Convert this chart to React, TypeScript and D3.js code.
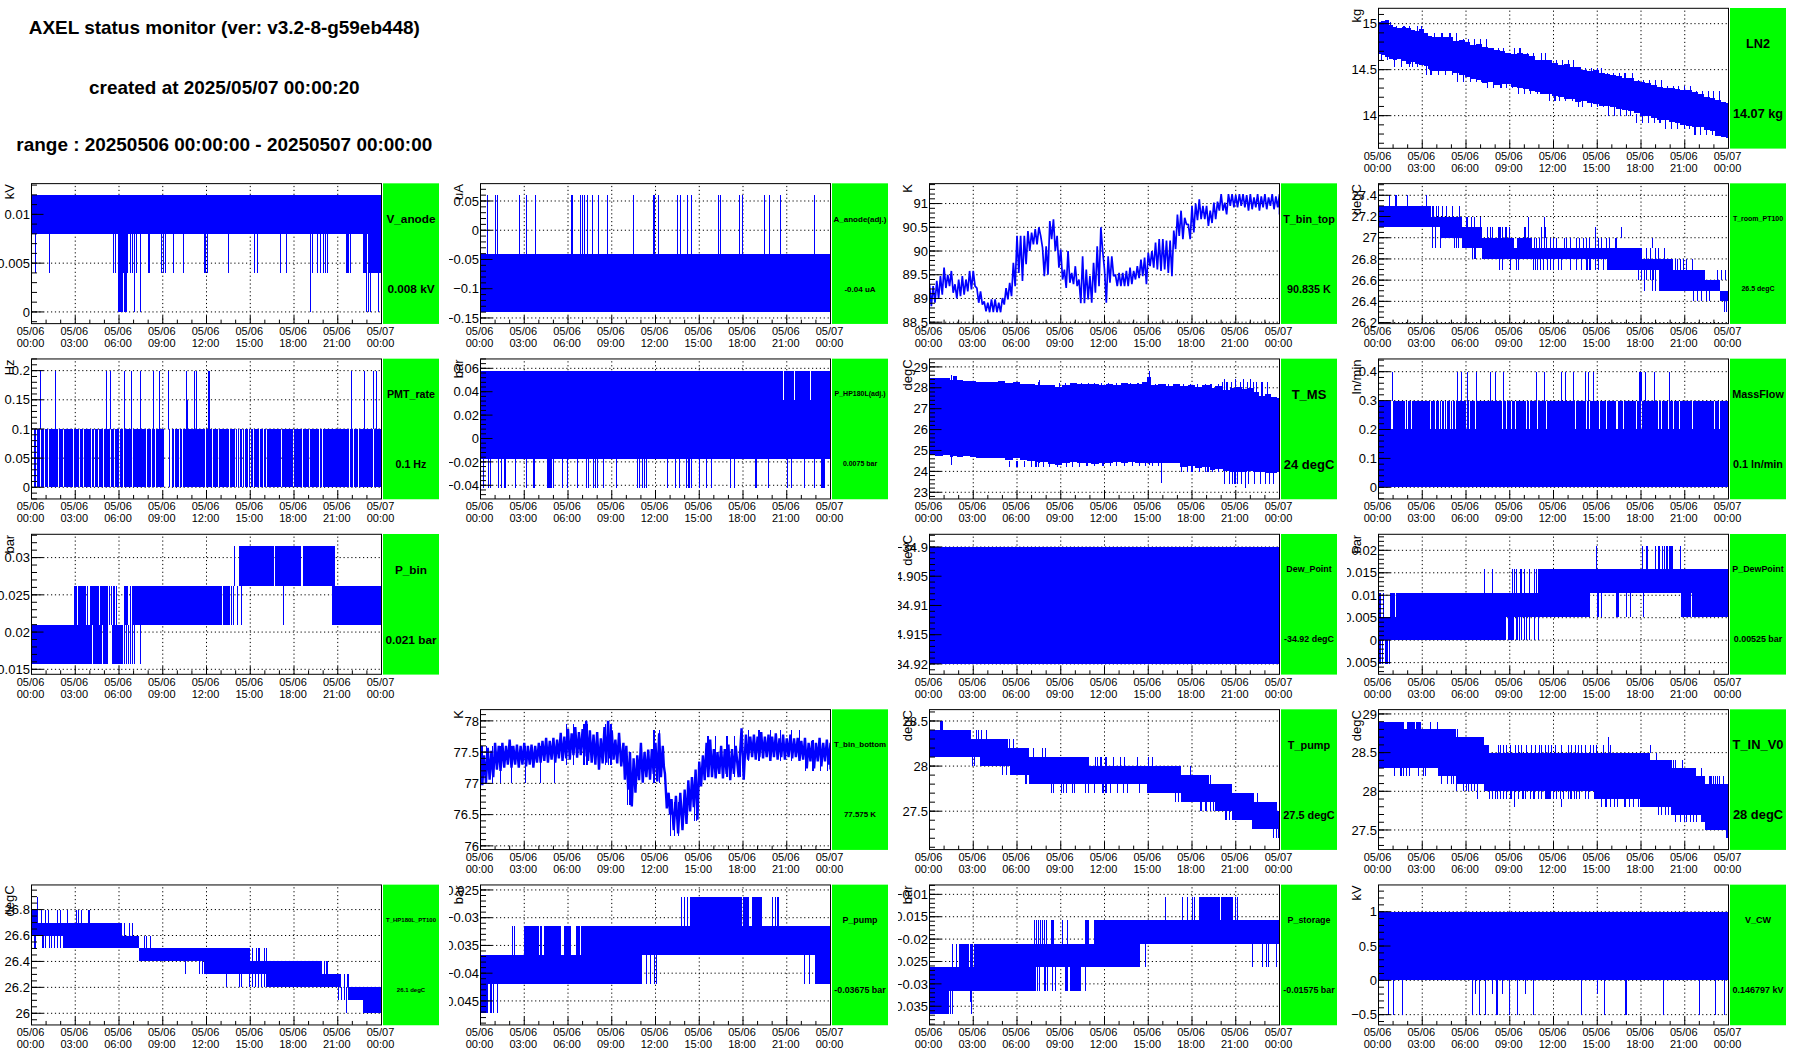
import * as d3 from "d3";

// [start hour, end hour, low, high, gap hours]
type Band = [number, number, number, number, number[]?];
// [low, high, hours]
type Spikes = [number, number, number[]];
// [hour, low, high]
type Row = [number, number, number];

const xTickHours = [0, 3, 6, 9, 12, 15, 18, 21, 24];
const xMinorHours = [1, 2, 4, 5, 7, 8, 10, 11, 13, 14, 16, 17, 19, 20, 22, 23];
const xDateLabels = ["05/06", "05/06", "05/06", "05/06", "05/06", "05/06", "05/06", "05/06", "05/07"];
const xTimeLabels = ["00:00", "03:00", "06:00", "09:00", "12:00", "15:00", "18:00", "21:00", "00:00"];

const titleLines = [
  "AXEL status monitor (ver: v3.2-8-g59eb448)",
  "created at 2025/05/07 00:00:20",
  "range : 20250506 00:00:00 - 20250507 00:00:00",
];

// LN2
const ln2Rows: Row[] = [
  [0, 14.67, 15.0], [0.15, 14.66, 15.03], [0.45, 14.64, 15.04], [0.7, 14.62, 14.99], [1, 14.6, 14.96], [1.3, 14.62, 14.95],
  [1.6, 14.59, 14.96], [1.9, 14.56, 14.95], [2.2, 14.58, 14.93], [2.5, 14.56, 14.92], [2.8, 14.55, 14.94], [3.1, 14.54, 14.9],
  [3.4, 14.51, 14.87], [3.7, 14.49, 14.85], [4, 14.49, 14.86], [4.4, 14.49, 14.85], [4.8, 14.48, 14.86], [5.1, 14.46, 14.81],
  [5.5, 14.44, 14.82], [5.9, 14.42, 14.8], [6.3, 14.4, 14.77], [6.7, 14.39, 14.78], [7.1, 14.36, 14.75], [7.5, 14.37, 14.73],
  [7.9, 14.33, 14.71], [8.3, 14.34, 14.7], [8.7, 14.34, 14.68], [9.1, 14.31, 14.67], [9.5, 14.3, 14.68], [9.9, 14.29, 14.67],
  [10.3, 14.27, 14.65], [10.7, 14.26, 14.61], [11.1, 14.24, 14.6], [11.5, 14.24, 14.6], [11.9, 14.21, 14.57], [12.3, 14.2, 14.55],
  [12.7, 14.18, 14.56], [13.1, 14.18, 14.53], [13.5, 14.15, 14.53], [13.9, 14.16, 14.5], [14.3, 14.14, 14.49], [14.7, 14.13, 14.5],
  [15.1, 14.11, 14.46], [15.5, 14.1, 14.45], [15.9, 14.09, 14.44], [16.3, 14.07, 14.43], [16.7, 14.06, 14.41], [17.1, 14.05, 14.41],
  [17.5, 14.03, 14.38], [17.9, 14.0, 14.37], [18.3, 14.0, 14.35], [18.7, 13.97, 14.33], [19.1, 13.95, 14.31], [19.5, 13.95, 14.3],
  [19.9, 13.93, 14.3], [20.3, 13.92, 14.29], [20.7, 13.9, 14.28], [21.1, 13.89, 14.28], [21.5, 13.88, 14.26], [21.9, 13.88, 14.24],
  [22.3, 13.84, 14.2], [22.7, 13.83, 14.19], [23.1, 13.78, 14.17], [23.5, 13.77, 14.15], [23.8, 13.76, 14.14], [24, 13.76, 14.14],
];
const ln2Spikes: Spikes[] = [
  [14.95, 15.02, [0.1, 0.3, 0.65, 0.85]],
  [14.9, 14.98, [1.25, 1.75, 2.15, 2.65, 2.95]],
  [14.8, 14.9, [3.3, 3.85, 4.35, 4.9, 5.35]],
  [14.7, 14.83, [5.8, 6.2, 6.6, 7, 7.4]],
  [14.62, 14.74, [7.8, 8.2, 8.6, 9.3, 9.7]],
  [14.55, 14.68, [10.2, 10.6, 11.2, 11.45]],
  [14.47, 14.6, [11.8, 12.2, 12.6, 13, 13.4]],
  [14.42, 14.52, [13.8, 14.2, 14.6, 15, 15.3]],
  [14.34, 14.46, [15.7, 16.1, 16.5, 16.9, 17.4]],
  [14.27, 14.39, [17.8, 18.2, 18.6, 19, 19.4]],
  [14.23, 14.32, [19.8, 20.2, 20.6, 21, 21.4]],
  [14.13, 14.27, [21.8, 22.2, 22.6, 23, 23.4]],
  [14.6, 14.68, [0.2, 0.6]],
  [14.53, 14.62, [1.1, 1.6, 2.1, 2.35, 2.7]],
  [14.44, 14.54, [3.3, 3.6, 4.1, 4.6, 5.05]],
  [14.37, 14.46, [5.4, 5.85, 6.3, 6.7, 7.05]],
  [14.3, 14.38, [7.45, 7.9, 8.4, 8.8, 9.2]],
  [14.23, 14.32, [9.6, 10, 10.45, 10.9, 11.3]],
  [14.16, 14.24, [11.7, 12.1, 12.4, 12.8, 13.3]],
  [14.09, 14.17, [13.7, 14, 14.6, 15, 15.4]],
  [14.0, 14.1, [15.8, 16.2, 16.6, 17, 17.3]],
  [13.92, 14.02, [17.7, 18.1, 18.5, 18.9, 19.3]],
  [13.86, 13.95, [19.7, 20.1, 20.5, 21, 21.3]],
  [13.79, 13.88, [21.7, 22.1, 22.5, 22.9]],
];

// V_anode
const vAnodeBands: Band[] = [
  [0, 24, 0.008, 0.012],
  [5.94, 6.63, 0.004, 0.008],
  [5.94, 6.29, 0, 0.004],
  [6.33, 6.54, 0, 0.004],
  [22.72, 23, 0.004, 0.008],
  [23.04, 23.9, 0.004, 0.008],
];
const vAnodeSpikes: Spikes[] = [
  [0.004, 0.008, [0.27, 1.21, 5.65, 5.78, 6.79, 6.9, 7.09, 7.22, 8, 8.07, 8.91, 9.05, 9.21, 9.76, 10.4, 11.86, 11.95, 12.05, 13.51, 15.27, 15.47, 17.05, 17.46, 19.25, 19.63, 19.82, 20, 20.14, 20.27, 21.6, 21.7, 21.9, 23.95]],
  [0, 0.008, [7.04, 7.45, 19.13, 22.97, 23.13, 23.25, 23.77]],
];

// A_anode(adj.)
const aAnodeBands: Band[] = [[0, 24, -0.14, -0.04]];
const aAnodeSpikes: Spikes[] = [
  [-0.04, 0.06, [0.48, 1.05, 1.17, 2.7, 3.15, 3.77, 6.24, 6.33, 6.88, 7.02, 7.15, 7.34, 7.68, 8.09, 8.73, 10.49, 11.88, 11.95, 12.2, 13.53, 13.71, 14.22, 14.47, 16.32, 16.46, 17.78, 17.98, 19.47, 19.81, 20.59, 22.93]],
];

// T_bin_top
const tBinTopRows: Row[] = [
  [0, 88.84, 89.3], [0.25, 88.91, 89.26], [0.5, 89.0, 89.37], [0.75, 89.08, 89.47], [1, 89.22, 89.65], [1.25, 89.26, 89.5],
  [1.5, 89.12, 89.58], [1.75, 89.0, 89.3], [2, 89.05, 89.4], [2.25, 89.08, 89.47], [2.5, 89.15, 89.4], [2.75, 89.19, 89.58],
  [3, 89.26, 89.58], [3.25, 88.91, 89.22], [3.5, 88.87, 89.15], [3.75, 88.73, 88.94], [4, 88.71, 88.91], [4.25, 88.71, 88.98],
  [4.5, 88.71, 88.98], [4.75, 88.71, 88.91], [5, 88.87, 89.01], [5.25, 88.98, 89.22], [5.5, 89.05, 89.33], [5.75, 89.26, 89.75],
  [6, 89.54, 90.32], [6.25, 89.37, 90.32], [6.5, 89.72, 90.32], [6.75, 90.0, 90.42], [7, 90.14, 90.39], [7.25, 90.14, 90.46],
  [7.5, 90.32, 90.5], [7.75, 89.47, 90.07], [8, 89.5, 90.1], [8.25, 90.25, 90.63], [8.5, 90.0, 90.67], [8.75, 89.65, 90.32],
  [9, 89.4, 90.03], [9.25, 89.22, 89.61], [9.5, 89.33, 90.0], [9.75, 89.3, 89.54], [10, 89.26, 89.68], [10.25, 88.9, 89.4],
  [10.5, 88.9, 89.89], [10.75, 88.98, 89.61], [11, 88.91, 89.47], [11.25, 89.12, 89.75], [11.5, 89.26, 90.1], [11.75, 90.0, 90.5],
  [12, 88.91, 89.61], [12.25, 89.33, 89.89], [12.5, 89.47, 89.89], [12.75, 89.26, 89.5], [13, 89.26, 89.54], [13.25, 89.26, 89.54],
  [13.5, 89.26, 89.58], [13.75, 89.3, 89.65], [14, 89.4, 89.58], [14.25, 89.43, 89.68], [14.5, 89.47, 89.82], [14.75, 89.3, 89.86],
  [15, 89.68, 89.96], [15.25, 89.65, 90.0], [15.5, 89.61, 90.18], [15.75, 89.58, 90.25], [16, 89.61, 90.25], [16.25, 89.54, 90.22],
  [16.5, 89.47, 90.22], [16.75, 90.04, 90.43], [17, 90.32, 90.77], [17.25, 90.25, 90.85], [17.5, 90.56, 90.7], [17.75, 90.25, 90.56],
  [18, 90.39, 90.95], [18.25, 90.65, 91.0], [18.5, 90.67, 91.09], [18.75, 90.67, 90.95], [19, 90.53, 90.95], [19.25, 90.59, 90.85],
  [19.5, 90.67, 91.02], [19.75, 90.85, 91.04], [20, 90.85, 91.2], [20.25, 90.77, 91.02], [20.5, 90.95, 91.2], [20.75, 90.92, 91.2],
  [21, 90.92, 91.18], [21.25, 90.95, 91.2], [21.5, 90.92, 91.2], [21.75, 90.85, 91.18], [22, 90.88, 91.2], [22.25, 90.92, 91.13],
  [22.5, 90.85, 91.2], [22.75, 90.92, 91.15], [23, 90.88, 91.2], [23.25, 90.95, 91.13], [23.5, 90.88, 91.2], [23.75, 90.92, 91.15], [24, 90.77, 91.2],
];

// T_room_PT100
const tRoomBands: Band[] = [
  [0, 3.6, 27.1, 27.3],
  [3.6, 4.2, 27.1, 27.2],
  [4.2, 5.75, 27.0, 27.2],
  [5.75, 7.1, 26.9, 27.1],
  [7.1, 9.3, 26.8, 27.0],
  [9.5, 10.5, 26.8, 27.0],
  [9.3, 9.5, 26.8, 26.9],
  [10.5, 15.7, 26.8, 26.9],
  [15.7, 18.1, 26.7, 26.9],
  [18.1, 19.2, 26.7, 26.8],
  [19.2, 20.2, 26.5, 26.8],
  [20.2, 22.4, 26.5, 26.7],
  [22.4, 23.4, 26.5, 26.6],
  [23.4, 24, 26.4, 26.5],
];
const tRoomSpikes: Spikes[] = [
  [27.3, 27.4, [0.75, 1.14, 1.21, 2.01, 3.27]],
  [27.2, 27.3, [3.7, 3.77, 4, 4.11, 4.41, 4.69, 5.1, 5.55]],
  [27.1, 27.2, [6.06, 6.1, 6.4, 6.58, 6.97, 10.29, 11.38]],
  [27.0, 27.1, [7.5, 7.66, 7.84, 8.23, 8.3, 8.39, 8.53, 8.69, 8.8, 8.98, 9.99, 10.06, 10.29, 11.15, 11.38, 11.47, 14.9, 16.64]],
  [26.9, 27.0, [10.67, 10.86, 11.02, 11.2, 11.36, 11.54, 11.77, 12, 12.23, 12.73, 12.91, 13.14, 13.6, 13.78, 14.06, 14.29, 14.47, 14.86, 15.09, 15.31, 15.66, 15.84, 16.23, 16.34, 18.79]],
  [26.8, 26.9, [18.35, 18.63, 18.97, 19.2, 19.6, 6.47, 6.56, 6.65]],
  [26.9, 27.1, [3.73, 3.9, 4.23, 5.2, 5.37, 5.49]],
  [26.7, 26.8, [8.3, 8.5, 9.03, 9.44, 9.6, 10.63, 10.74, 10.9, 11.09, 11.31, 11.59, 11.77, 12, 12.34, 12.57, 13.14, 13.6, 13.9, 14.3, 14.5, 14.9, 15.1, 15.4]],
  [26.6, 26.7, [17.8, 18.06, 18.4, 18.63, 18.86]],
  [26.5, 26.7, [18.24, 18.79, 18.97]],
  [26.7, 26.8, [20.34, 20.5, 20.69, 20.91, 21.14, 21.53]],
  [26.4, 26.5, [21.6, 21.87, 22.16, 22.47, 22.67]],
  [26.6, 26.7, [23.27, 23.54, 23.82]],
  [26.3, 26.4, [23.73, 23.85]],
];

// PMT_rate
const pmtGaps = [0.07, 0.14, 0.34, 0.62, 0.87, 1.19, 1.85, 2.17, 2.86, 3.31, 3.54, 4.11, 4.3, 4.59, 4.96, 5.42, 5.71, 6.06, 6.33, 6.9, 7.89, 8.23, 8.53, 9.14, 9.2, 9.26, 9.32, 9.38, 9.55, 9.6, 9.78, 10.17, 10.35, 11.95, 12.41, 12.8, 13.6, 13.97, 14.1, 14.29, 14.47, 14.63, 14.86, 15.02, 15.25, 15.66, 15.89, 16.11, 17.14, 17.94, 18.57, 19.09, 19.73, 19.95, 21.83, 22.06, 22.43, 23.43];
const pmtBands: Band[] = [[0, 24, 0, 0.1, pmtGaps]];
const pmtSpikes: Spikes[] = [
  [0.1, 0.2, [0.59, 1.62, 5.12, 5.39, 6.35, 6.83, 7.45, 8.37, 8.75, 9.37, 10.63, 11.15, 11.29, 12.11, 12.18, 21.97, 22.81, 23.43, 23.63]],
  [0.1, 0.15, [10.7]],
];

// P_HP180L(adj.)
const pHpBands: Band[] = [
  [0, 24, -0.0175, 0.0325],
  [0, 24, 0.0325, 0.0575, [20.78, 21.53, 22.63]],
  [0.14, 0.27, -0.0425, -0.0175],
  [4.59, 4.89, -0.0425, -0.0175],
  [23.36, 23.63, -0.0425, -0.0175],
];
const pHpSpikes: Spikes[] = [
  [-0.0425, -0.0175, [0.55, 0.66, 1.23, 1.46, 1.65, 1.74, 2.4, 3.15, 3.63, 3.73, 4.98, 5.65, 5.97, 6.65, 7.25, 7.38, 7.75, 7.91, 8.02, 8.43, 9.33, 10.77, 10.88, 11.1, 11.22, 11.38, 12.82, 13.37, 13.65, 14.13, 14.24, 14.33, 14.49, 15.02, 15.5, 15.84, 17.14, 17.42, 18.88, 18.95, 19.75, 21.05, 21.33, 22.22, 22.9]],
];

// T_MS
const tMsRows: Row[] = [
  [0, 24.78, 28.45], [0.4, 24.72, 28.47], [0.9, 24.78, 28.48], [1.4, 24.7, 28.37], [1.6, 24.72, 28.55], [1.9, 24.68, 28.38],
  [2.3, 24.74, 28.33], [2.8, 24.68, 28.34], [3.2, 24.62, 28.27], [3.7, 24.66, 28.3], [4.2, 24.62, 28.29], [4.7, 24.66, 28.32],
  [5.2, 24.55, 28.22], [5.7, 24.62, 28.27], [6.2, 24.56, 28.2], [6.7, 24.48, 28.17], [7.2, 24.45, 28.12], [7.5, 24.4, 28.38],
  [7.6, 24.44, 28.12], [8.1, 24.36, 28.14], [8.6, 24.3, 28.06], [9.1, 24.4, 28.12], [9.6, 24.46, 28.22], [10.1, 24.4, 28.16],
  [10.6, 24.38, 28.2], [11.1, 24.36, 28.17], [11.6, 24.42, 28.14], [12.1, 24.38, 28.18], [12.6, 24.46, 28.14], [13.1, 24.42, 28.22],
  [13.6, 24.46, 28.2], [14.1, 24.38, 28.16], [14.6, 24.42, 28.3], [14.9, 24.4, 28.5], [15.2, 24.38, 28.12], [15.7, 24.38, 28.16],
  [16.2, 24.4, 28.1], [16.7, 24.4, 28.16], [17.2, 24.22, 28.08], [17.7, 24.24, 28.12], [18.2, 24.18, 28.06], [18.7, 24.2, 28.14],
  [19.2, 24.05, 28.0], [19.6, 24.1, 28.08], [20.1, 24.02, 27.9], [20.6, 23.95, 27.98], [21, 23.98, 28.05], [21.4, 23.98, 27.92],
  [21.8, 24.0, 27.98], [22.2, 23.95, 27.8], [22.6, 23.95, 27.6], [23, 23.9, 27.68], [23.4, 23.92, 27.55], [23.8, 23.95, 27.5], [24, 23.9, 27.43],
];
const tMsSpikes: Spikes[] = [
  [24.3, 28.6, [1.5]],
  [24.3, 28.82, [15.08]],
  [23.45, 24.4, [15.9]],
  [24.2, 28.3, [7.45]],
  [23.22, 24.0, [21.65]],
  [23.4, 24, [20.2, 20.6, 20.8, 20.95, 21.1, 21.4, 21.9, 22.3, 22.7, 23.05, 23.3, 23.6]],
  [27.5, 28.3, [20.1, 20.4, 20.7, 21.3, 21.8, 22.2, 22.4, 22.8, 23.2]],
  [27.5, 28.4, [20.25, 21, 21.55, 22]],
  [28, 28.25, [8.9, 9.3, 9.9, 10.4, 10.9, 11.3, 11.8, 12.3, 12.8, 13.3, 13.8, 14.3]],
  [28, 28.18, [15.5, 16, 16.4, 16.9, 17.4, 17.9, 18.4, 18.9, 19.3, 19.8]],
  [24.2, 24.5, [5.5, 6, 6.5, 7, 7.3, 7.8, 8.2, 8.8, 9.4, 9.8, 10.3]],
  [24.25, 24.45, [10.8, 11.3, 11.9, 12.4, 12.8, 13.4, 13.9, 14.4, 14.8, 15.3, 15.7]],
  [23.95, 24.25, [17.3, 17.7, 18, 18.5, 18.9, 19.1, 19.4, 19.8]],
];

// MassFlow
const massFlowBands: Band[] = [
  [0, 24, 0, 0.2],
  [0, 24, 0.2, 0.3, [0.87, 0.98, 1.83, 2.01, 2.29, 3.59, 3.89, 4.18, 4.34, 4.5, 4.69, 4.91, 5.07, 5.26, 6.06, 6.23, 6.63, 8.5, 8.75, 9.14, 9.41, 10.13, 10.35, 10.9, 11.54, 13.49, 14.29, 14.47, 15.13, 15.61, 16.3, 16.39, 16.8, 17.67, 18.06, 19.2, 19.43, 19.89, 20.23, 20.62, 21.55, 23.04, 23.38]],
];
const massFlowSpikes: Spikes[] = [
  [0.3, 0.4, [0.96, 5.42, 5.67, 6.1, 6.74, 7.7, 8, 8.57, 10.86, 11.38, 12.57, 12.82, 13.37, 14.22, 14.4, 14.74, 17.9, 18, 18.29, 18.93, 19.95]],
];

// P_bin
const pBinBands: Band[] = [
  [0, 4.16, 0.01575, 0.021],
  [4.23, 4.8, 0.01575, 0.021],
  [4.91, 5.26, 0.01575, 0.021],
  [5.51, 6.29, 0.01575, 0.021],
  [3.2, 3.73, 0.021, 0.02625],
  [4.11, 4.53, 0.021, 0.02625],
  [4.69, 5.26, 0.021, 0.02625],
  [6.35, 6.63, 0.021, 0.02625],
  [6.97, 13.03, 0.021, 0.02625],
  [13.1, 13.6, 0.021, 0.02625],
  [14.33, 16.62, 0.02625, 0.0315],
  [16.69, 18.51, 0.02625, 0.0315],
  [18.6, 20.78, 0.02625, 0.0315],
  [20.75, 24, 0.021, 0.02625],
];
const pBinSpikes: Spikes[] = [
  [0.01575, 0.021, [6.4, 6.51, 6.63, 6.79, 6.93, 7.04, 7.47]],
  [0.021, 0.02625, [2.95, 3.05, 3.85, 4.05, 4.6, 5.37, 5.49, 5.6, 5.71, 5.83, 6.79, 6.93, 13.71, 13.83, 14.1, 14.4, 17.26, 20.62, 20.69]],
  [0.02625, 0.0315, [13.9, 14.24]],
];

// Dew_Point
const dewPointBands: Band[] = [[0, 24, -34.92, -34.9]];

// P_DewPoint
const pDewBands: Band[] = [
  [0, 8.75, 0, 0.00525],
  [8.85, 9.2, 0, 0.00525],
  [0.8, 1.14, 0.00525, 0.0105],
  [0.3, 0.39, 0.00525, 0.0105],
  [1.21, 14.4, 0.00525, 0.0105],
  [16.27, 16.5, 0.00525, 0.0105],
  [20.75, 21.42, 0.00525, 0.0105],
  [21.5, 24, 0.00525, 0.0105],
  [10.97, 11.66, 0.0105, 0.01575],
  [11.66, 24, 0.0105, 0.01575],
  [18.93, 19.31, 0.01575, 0.021, [19.05, 19.15]],
  [19.73, 20.18, 0.01575, 0.021, [19.9]],
  [0.5, 0.6, -0.00525, 0],
];
const pDewSpikes: Spikes[] = [
  [0, 0.00525, [9.26, 9.44, 9.55, 9.67, 9.83, 10.01, 10.13, 10.35, 10.67, 10.97]],
  [0.00525, 0.0105, [0.07, 0.16, 14.47, 15.03, 15.1, 15.31, 16.99, 17.29, 18.17]],
  [0.0105, 0.01575, [7.27, 7.82, 9.19, 9.3, 9.48, 9.71, 9.83, 9.99, 10.35, 10.67, 10.86]],
  [0.01575, 0.021, [14.97, 18.08, 18.12, 18.35, 18.45, 19.5, 19.59, 20.71]],
  [-0.00525, 0, [0.1, 0.3, 0.46, 0.62, 0.75]],
];

// T_bin_bottom
const tBinBottomRows: Row[] = [
  [0, 76.97, 77.49], [0.25, 77.0, 77.45], [0.5, 77.06, 77.57], [0.75, 77.1, 77.52], [1, 77.22, 77.65], [1.25, 77.2, 77.6], [1.5, 77.25, 77.65],
  [1.75, 77.3, 77.6], [2, 77.25, 77.7], [2.25, 77.3, 77.6], [2.5, 77.25, 77.62], [2.75, 77.3, 77.6], [3, 77.27, 77.65], [3.25, 77.3, 77.6], [3.5, 77.25, 77.62],
  [3.75, 77.33, 77.6], [4, 77.33, 77.65], [4.25, 77.36, 77.68], [4.5, 77.33, 77.73], [4.75, 77.38, 77.68], [5, 77.33, 77.73], [5.25, 77.4, 77.7], [5.5, 77.36, 77.81],
  [5.75, 77.4, 77.75], [6, 77.38, 77.87], [6.25, 77.45, 77.8], [6.5, 77.41, 77.9], [6.75, 77.45, 77.82], [7, 77.43, 77.87], [7.25, 77.36, 78.0],
  [7.5, 77.33, 77.85], [7.75, 77.3, 77.78], [8, 77.22, 77.82], [8.25, 77.32, 77.72], [8.5, 77.33, 77.9], [8.75, 77.4, 78.0], [9, 77.38, 77.85], [9.25, 77.32, 77.7], [9.5, 77.27, 77.81],
  [9.8, 77.06, 77.65], [10, 76.9, 77.6], [10.25, 76.63, 77.5], [10.5, 76.85, 77.4], [10.75, 77.05, 77.45], [11, 77.01, 77.65], [11.25, 77.1, 77.5], [11.5, 77.06, 77.54],
  [11.75, 77.15, 77.55], [12, 77.03, 77.65], [12.25, 77.1, 77.8], [12.5, 77.27, 77.6], [12.65, 76.6, 77.15], [12.9, 76.5, 76.85], [13.1, 76.25, 76.75],
  [13.4, 76.2, 76.8], [13.7, 76.25, 76.85], [14, 76.35, 76.9], [14.25, 76.55, 77.05], [14.5, 76.62, 77.1], [14.75, 76.42, 77.22],
  [15, 76.95, 77.35], [15.25, 77.05, 77.45], [15.5, 77.1, 77.65], [15.75, 77.1, 77.7], [16, 77.08, 77.55], [16.25, 77.15, 77.5], [16.5, 77.08, 77.6], [16.75, 77.15, 77.55],
  [17, 77.05, 77.62], [17.25, 77.15, 77.55], [17.5, 77.1, 77.6], [17.9, 77.06, 77.88], [18.2, 77.38, 77.78], [18.5, 77.42, 77.75], [18.75, 77.38, 77.78], [19, 77.42, 77.75], [19.25, 77.4, 77.82],
  [19.5, 77.42, 77.75], [19.75, 77.36, 77.78], [20, 77.42, 77.75], [20.25, 77.38, 77.8], [20.5, 77.42, 77.72], [20.75, 77.38, 77.78], [21, 77.42, 77.72], [21.25, 77.4, 77.78], [21.5, 77.42, 77.72], [21.75, 77.36, 77.73], [22, 77.38, 77.68], [22.25, 77.24, 77.73],
  [22.5, 77.35, 77.65], [22.75, 77.24, 77.68], [23, 77.35, 77.65], [23.25, 77.27, 77.73], [23.5, 77.35, 77.65], [23.75, 77.3, 77.7], [24, 77.22, 77.65],
];
const tBinBottomSpikes: Spikes[] = [
  [77.0, 77.6, [0.1, 0.4, 0.85, 1.4, 2.1, 3.1, 4.1, 5.1]],
  [77.3, 77.95, [5.9, 6.4, 7.1, 7.3, 8.6, 8.8, 8.95]],
  [76.65, 77.4, [10.1, 10.2, 10.3]],
  [77.0, 77.85, [11.9, 12.3]],
  [76.15, 76.7, [13, 13.3, 13.6]],
  [76.4, 77.0, [14.7, 14.8]],
  [77.1, 77.75, [15.6, 16.1, 16.9, 17.4, 17.85]],
  [77.35, 77.85, [18.4, 19.1, 19.9, 20.6, 21.3, 21.9]],
  [77.2, 77.7, [22.3, 22.8, 23.3, 23.8]],
];

// T_pump
const tPumpBands: Band[] = [
  [0, 2.86, 28.1, 28.4],
  [0.73, 0.91, 28.4, 28.5],
  [2.86, 3.5, 28.1, 28.3],
  [3.5, 5.35, 28.0, 28.3],
  [5.35, 5.5, 28.0, 28.2],
  [5.5, 6.85, 27.9, 28.2],
  [6.85, 10.6, 27.8, 28.1],
  [10.6, 14.9, 27.8, 28.0],
  [10.6, 10.95, 28.0, 28.1],
  [14.9, 17.26, 27.7, 28.0],
  [17.26, 19.15, 27.6, 27.9],
  [19.15, 19.6, 27.6, 27.8],
  [19.6, 20.73, 27.5, 27.8],
  [20.73, 22.13, 27.4, 27.7],
  [22.13, 22.26, 27.3, 27.7],
  [22.26, 23.75, 27.3, 27.6],
  [23.75, 24, 27.3, 27.5],
];
const tPumpSpikes: Spikes[] = [
  [28.3, 28.4, [3.2, 3.36, 3.59, 3.93]],
  [28.2, 28.3, [5.37, 5.49, 5.76]],
  [28.1, 28.2, [7.13, 7.77, 7.95]],
  [28.0, 28.1, [9.07, 9.19, 9.49, 11.38, 11.52, 11.7, 11.8, 12.1, 12.6, 13.1, 13.35, 14.25, 15, 15.3]],
  [27.9, 28.0, [17.9]],
  [27.8, 27.9, [19.25]],
  [28.0, 28.1, [2.97, 3.06, 3.47]],
  [27.9, 28.0, [5, 5.3]],
  [27.8, 27.9, [6.56, 6.63]],
  [27.7, 27.8, [8.39, 8.5, 9.07, 9.19, 9.4, 9.8, 9.92, 10.67, 10.9, 11.3, 11.9, 12.1, 12.4, 12.9, 13.3, 13.6, 14.4]],
  [27.6, 27.7, [16.85, 17.07]],
  [27.5, 27.6, [18.56, 18.67, 18.9, 19, 19.25, 19.47]],
  [27.4, 27.5, [20.27, 20.39, 20.57]],
  [27.6, 27.7, [22.49]],
  [27.5, 27.6, [23.77]],
  [27.2, 27.3, [23.59, 23.77, 23.93]],
];

// T_IN_V0
const tInBands: Band[] = [
  [0, 1.75, 28.3, 28.9],
  [1.98, 2.5, 28.8, 28.9],
  [2.6, 2.92, 28.8, 28.9],
  [1.75, 4.05, 28.3, 28.8],
  [4.05, 5.3, 28.2, 28.8],
  [5.3, 7.2, 28.1, 28.7],
  [7.2, 7.6, 28.0, 28.6],
  [7.6, 14.8, 28.0, 28.5],
  [14.8, 17.9, 27.9, 28.5],
  [17.9, 18.6, 27.8, 28.5],
  [18.6, 20.1, 27.8, 28.4],
  [20.1, 21.6, 27.7, 28.3],
  [21.6, 22.1, 27.7, 28.2],
  [22.1, 22.4, 27.6, 28.2],
  [22.4, 23.8, 27.5, 28.1],
  [23.8, 24, 27.4, 28.1],
  [11.4, 11.8, 27.9, 28.0],
];
const tInSpikes: Spikes[] = [
  [28.8, 28.9, [3.59, 4.07]],
  [28.7, 28.8, [5.42]],
  [28.6, 28.7, [6.58, 6.74, 15.77]],
  [28.5, 28.6, [8.23, 8.34, 8.57, 8.8, 9.03, 9.37, 9.6, 9.83, 10.17, 10.5, 10.74, 11.04, 11.2, 11.43, 11.66, 11.89, 12.11, 12.57, 13.03, 13.26, 13.49, 13.71, 13.94, 14.17, 14.51, 14.74, 14.93, 15.43, 15.77, 15.89, 18.63]],
  [28.4, 28.5, [19.04]],
  [28.3, 28.4, [19.89, 20, 20.23, 20.34, 20.87]],
  [28.2, 28.3, [21.7, 22.17]],
  [28.1, 28.2, [22.7, 22.8, 22.95, 23.1, 23.25, 23.4, 23.65]],
  [28.2, 28.3, [1.07, 1.49, 1.6, 1.71, 1.94, 2.1, 2.74, 3.09, 3.2]],
  [28.1, 28.2, [4.34, 4.73, 4.98, 5.14]],
  [28.0, 28.1, [5.37, 5.83, 6.01, 6.17, 6.35, 6.58]],
  [27.9, 28.1, [6.77]],
  [27.9, 28.0, [7.6, 7.8, 8, 8.15, 8.35, 8.55, 8.8, 9.05, 9.1, 9.35, 9.6, 9.85, 9.95, 10.1, 10.4, 10.6, 10.7, 11, 11.2, 12, 12.2, 12.5, 12.7, 13, 13.2, 13.45, 13.6, 13.8, 14.2, 14.4]],
  [27.8, 27.9, [9.3, 12.52, 15.3, 15.6, 15.93, 16.2, 16.4, 16.9, 17.2, 17.5, 17.8]],
  [27.7, 27.8, [19.2, 19.43, 19.66, 19.89, 20.1]],
  [27.6, 27.7, [20.34, 20.73, 20.98, 21.14, 21.37, 21.6, 21.83]],
];

// T_HP180L_PT100
const tHpBands: Band[] = [
  [0, 0.45, 26.7, 26.8],
  [0, 6.2, 26.6, 26.7],
  [2.16, 7.36, 26.5, 26.6],
  [7.4, 7.8, 26.4, 26.5],
  [7.8, 14.96, 26.4, 26.5],
  [11.8, 16.1, 26.3, 26.4],
  [16.1, 19.9, 26.3, 26.4],
  [16.1, 21.2, 26.2, 26.3],
  [21.7, 22.75, 26.1, 26.2],
  [22.75, 24, 26.0, 26.2],
];
const tHpSpikes: Spikes[] = [
  [26.8, 26.9, [0.43]],
  [26.7, 26.8, [0.71, 0.98, 1.18, 1.77, 1.97, 2.44, 3.07, 3.23, 3.43, 3.94]],
  [26.5, 26.6, [0.2, 0.28, 0.79, 0.98, 1.26, 1.38, 1.57, 1.77, 1.97]],
  [26.6, 26.7, [6.4, 6.7, 6.9]],
  [26.5, 26.6, [7.75, 7.9, 8.15]],
  [26.3, 26.4, [10.55, 11.5, 11.7]],
  [26.4, 26.5, [15.16, 15.43, 15.6, 15.95, 16.14]],
  [26.2, 26.3, [13.4, 14.25, 14.4, 14.96, 15.16, 15.35, 15.55, 15.75, 15.95]],
  [26.3, 26.4, [20.07, 20.26]],
  [26.2, 26.3, [21.45, 21.7]],
  [26.1, 26.2, [21.06, 21.26, 21.45]],
  [26.0, 26.2, [21.6]],
];

// P_pump
const pPumpBands: Band[] = [
  [0, 0.5, -0.04725, -0.042],
  [0, 11.1, -0.042, -0.03675],
  [22.95, 24, -0.042, -0.03675],
  [2.99, 3.98, -0.03675, -0.0315],
  [4.37, 5.55, -0.03675, -0.0315],
  [5.75, 6.2, -0.03675, -0.0315],
  [6.54, 6.8, -0.03675, -0.0315],
  [6.9, 24, -0.03675, -0.0315],
  [14.37, 17.9, -0.0315, -0.02625],
  [18.03, 18.43, -0.0315, -0.02625],
  [18.6, 19.3, -0.0315, -0.02625],
];
const pPumpSpikes: Spikes[] = [
  [-0.04725, -0.042, [0.72, 0.91, 1.14]],
  [-0.042, -0.03675, [11.4, 11.65, 11.93, 12.05, 22.24, 22.55]],
  [-0.03675, -0.0315, [2.2, 2.36, 4.15]],
  [-0.0315, -0.02625, [13.78, 13.98, 14.2, 20, 20.2, 20.4]],
];

// P_storage
const pStorageBands: Band[] = [
  [0, 1.35, -0.03675, -0.0315],
  [0, 7.3, -0.0315, -0.02625],
  [9.26, 9.53, -0.0315, -0.02625],
  [9.6, 10.4, -0.0315, -0.02625],
  [2.03, 2.74, -0.02625, -0.021],
  [3.02, 14.45, -0.02625, -0.021],
  [8.34, 8.55, -0.021, -0.01575],
  [10.63, 10.95, -0.021, -0.01575],
  [11.3, 24, -0.021, -0.01575],
  [18.49, 19.93, -0.01575, -0.0105],
  [20, 20.8, -0.01575, -0.0105],
];
const pStorageSpikes: Spikes[] = [
  [-0.03675, -0.0315, [1.42, 1.6, 2.88]],
  [-0.034, -0.0315, [2.8]],
  [-0.0315, -0.02625, [7.4, 7.52, 7.89, 7.98, 8.11, 8.46, 8.66, 10.67]],
  [-0.02625, -0.021, [1.58, 1.83, 2.85, 2.95, 14.79, 22.15, 22.86, 23.13, 23.25, 23.82]],
  [-0.021, -0.01575, [7.2, 7.31, 7.47, 7.59, 7.77, 7.86, 8.05, 9.12, 9.49]],
  [-0.01575, -0.0105, [16.2, 17.35, 17.71, 18.06, 18.17, 20.96, 21.12]],
];

// V_CW
const vCwBands: Band[] = [[0, 24, 0, 1.0]];
const vCwSpikes: Spikes[] = [
  [-0.5, 0, [0.7, 1.03, 1.66, 6.47, 6.95, 7.34, 8.13, 9, 9.55, 10.65, 13.9, 15.47, 16.97, 19.57, 22, 23.1, 23.7]],
  [-0.2, 0, [6.63, 7.8, 8.52, 10.1, 15]],
];

type Panel = {
  col: number; row: number; name: string; value: string; unit: string; labelSize: number;
  domain: [number, number]; ticks: number[]; tickLabels: string[]; minor: number;
  bands?: Band[]; spikes?: Spikes[]; rows?: Row[]; trace?: Row[]; traceWidth?: number;
};

const panels: Panel[] = [
  { col: 3, row: 0, name: "LN2", value: "14.07 kg", unit: "kg", labelSize: 12.7, domain: [13.645, 15.167], ticks: [14, 14.5, 15], tickLabels: ["14", "14.5", "15"], minor: 0.1, rows: ln2Rows, spikes: ln2Spikes },
  { col: 0, row: 1, name: "V_anode", value: "0.008 kV", unit: "kV", labelSize: 11.8, domain: [-0.0012, 0.01315], ticks: [0, 0.005, 0.01], tickLabels: ["0", "0.005", "0.01"], minor: 0.001, bands: vAnodeBands, spikes: vAnodeSpikes },
  { col: 1, row: 1, name: "A_anode(adj.)", value: "-0.04 uA", unit: "uA", labelSize: 8, domain: [-0.1597, 0.0797], ticks: [-0.15, -0.1, -0.05, 0, 0.05], tickLabels: ["\u22120.15", "\u22120.1", "\u22120.05", "0", "0.05"], minor: 0.01, bands: aAnodeBands, spikes: aAnodeSpikes },
  { col: 2, row: 1, name: "T_bin_top", value: "90.835 K", unit: "K", labelSize: 10.8, domain: [88.47, 91.42], ticks: [88.5, 89, 89.5, 90, 90.5, 91], tickLabels: ["88.5", "89", "89.5", "90", "90.5", "91"], minor: 0.1, trace: tBinTopRows, traceWidth: 1.7 },
  { col: 3, row: 1, name: "T_room_PT100", value: "26.5 degC", unit: "degC", labelSize: 7, domain: [26.19, 27.51], ticks: [26.2, 26.4, 26.6, 26.8, 27, 27.2, 27.4], tickLabels: ["26.2", "26.4", "26.6", "26.8", "27", "27.2", "27.4"], minor: 0.05, bands: tRoomBands, spikes: tRoomSpikes },
  { col: 0, row: 2, name: "PMT_rate", value: "0.1 Hz", unit: "Hz", labelSize: 10.7, domain: [-0.02, 0.22], ticks: [0, 0.05, 0.1, 0.15, 0.2], tickLabels: ["0", "0.05", "0.1", "0.15", "0.2"], minor: 0.01, bands: pmtBands, spikes: pmtSpikes },
  { col: 1, row: 2, name: "P_HP180L(adj.)", value: "0.0075 bar", unit: "bar", labelSize: 7, domain: [-0.0517, 0.068], ticks: [-0.04, -0.02, 0, 0.02, 0.04, 0.06], tickLabels: ["\u22120.04", "\u22120.02", "0", "0.02", "0.04", "0.06"], minor: 0.004, bands: pHpBands, spikes: pHpSpikes },
  { col: 2, row: 2, name: "T_MS", value: "24 degC", unit: "degC", labelSize: 13, domain: [22.68, 29.38], ticks: [23, 24, 25, 26, 27, 28, 29], tickLabels: ["23", "24", "25", "26", "27", "28", "29"], minor: 0.2, rows: tMsRows, spikes: tMsSpikes },
  { col: 3, row: 2, name: "MassFlow", value: "0.1 ln/min", unit: "ln/min", labelSize: 10.8, domain: [-0.0403, 0.444], ticks: [0, 0.1, 0.2, 0.3, 0.4], tickLabels: ["0", "0.1", "0.2", "0.3", "0.4"], minor: 0.02, bands: massFlowBands, spikes: massFlowSpikes },
  { col: 0, row: 3, name: "P_bin", value: "0.021 bar", unit: "bar", labelSize: 11.8, domain: [0.01433, 0.03313], ticks: [0.015, 0.02, 0.025, 0.03], tickLabels: ["0.015", "0.02", "0.025", "0.03"], minor: 0.001, bands: pBinBands, spikes: pBinSpikes },
  { col: 2, row: 3, name: "Dew_Point", value: "-34.92 degC", unit: "degC", labelSize: 8.9, domain: [-34.92177, -34.89783], ticks: [-34.92, -34.915, -34.91, -34.905, -34.9], tickLabels: ["\u221234.92", "\u221234.915", "\u221234.91", "\u221234.905", "\u221234.9"], minor: 0.001, bands: dewPointBands },
  { col: 3, row: 3, name: "P_DewPoint", value: "0.00525 bar", unit: "bar", labelSize: 8.9, domain: [-0.0076, 0.02357], ticks: [-0.005, 0, 0.005, 0.01, 0.015, 0.02], tickLabels: ["\u22120.005", "0", "0.005", "0.01", "0.015", "0.02"], minor: 0.001, bands: pDewBands, spikes: pDewSpikes },
  { col: 1, row: 4, name: "T_bin_bottom", value: "77.575 K", unit: "K", labelSize: 7.9, domain: [75.94, 78.18], ticks: [76, 76.5, 77, 77.5, 78], tickLabels: ["76", "76.5", "77", "77.5", "78"], minor: 0.1, trace: tBinBottomRows, traceWidth: 2.4, spikes: tBinBottomSpikes },
  { col: 2, row: 4, name: "T_pump", value: "27.5 degC", unit: "degC", labelSize: 10.9, domain: [27.074, 28.626], ticks: [27.5, 28, 28.5], tickLabels: ["27.5", "28", "28.5"], minor: 0.1, bands: tPumpBands, spikes: tPumpSpikes },
  { col: 3, row: 4, name: "T_IN_V0", value: "28 degC", unit: "degC", labelSize: 12.9, domain: [27.246, 29.056], ticks: [27.5, 28, 28.5, 29], tickLabels: ["27.5", "28", "28.5", "29"], minor: 0.1, bands: tInBands, spikes: tInSpikes },
  { col: 0, row: 5, name: "T_HP180L_PT100", value: "26.1 degC", unit: "degC", labelSize: 6, domain: [25.91, 26.99], ticks: [26, 26.2, 26.4, 26.6, 26.8], tickLabels: ["26", "26.2", "26.4", "26.6", "26.8"], minor: 0.05, bands: tHpBands, spikes: tHpSpikes },
  { col: 1, row: 5, name: "P_pump", value: "-0.03675 bar", unit: "bar", labelSize: 8.9, domain: [-0.04933, -0.0241], ticks: [-0.045, -0.04, -0.035, -0.03, -0.025], tickLabels: ["\u22120.045", "\u22120.04", "\u22120.035", "\u22120.03", "\u22120.025"], minor: 0.001, bands: pPumpBands, spikes: pPumpSpikes },
  { col: 2, row: 5, name: "P_storage", value: "-0.01575 bar", unit: "bar", labelSize: 8.9, domain: [-0.03918, -0.0079], ticks: [-0.035, -0.03, -0.025, -0.02, -0.015, -0.01], tickLabels: ["\u22120.035", "\u22120.03", "\u22120.025", "\u22120.02", "\u22120.015", "\u22120.01"], minor: 0.001, bands: pStorageBands, spikes: pStorageSpikes },
  { col: 3, row: 5, name: "V_CW", value: "0.146797 kV", unit: "kV", labelSize: 9, domain: [-0.65, 1.39], ticks: [-0.5, 0, 0.5, 1], tickLabels: ["\u22120.5", "0", "0.5", "1"], minor: 0.1, bands: vCwBands, spikes: vCwSpikes },
];

const WIDTH = 1796;
const HEIGHT = 1052;
const CELL_W = 449;
const CELL_H = 175.33;
const PLOT_W = 350;
const PLOT_H = 140;
const FONT = "'Liberation Sans', Arial, sans-serif";
const BLUE = "#0000ff";

// cut the white gaps out of a band
function bandPieces(band: Band, x: d3.ScaleLinear<number, number>) {
  const [t0, t1, , , gaps] = band;
  const pieces: [number, number][] = [];
  let start = x(t0);
  for (const g of d3.sort(gaps ?? [])) {
    pieces.push([start, x(g) - 0.6]);
    start = x(g) + 0.6;
  }
  pieces.push([start, x(t1)]);
  return pieces;
}

function ChartPanel({ p, index }: { p: Panel; index: number }) {
  const cellX = p.col * CELL_W;
  const cellY = p.row * CELL_H;
  const left = cellX + 31.5;
  const top = cellY + 8.3;
  const right = left + PLOT_W;
  const bottom = top + PLOT_H;

  const x = d3.scaleLinear().domain([0, 24]).range([left, right]);
  const y = d3.scaleLinear().domain(p.domain).range([bottom, top]);

  const minorTicks = d3
    .range(Math.ceil(p.domain[0] / p.minor), Math.floor(p.domain[1] / p.minor) + 1)
    .map((k) => k * p.minor);

  const area = d3
    .area<Row>()
    .x((d) => x(d[0]))
    .y0((d) => y(d[1]))
    .y1((d) => y(d[2]))
    .curve(d3.curveStepAfter);

  const spikePath = (p.spikes ?? [])
    .flatMap(([lo, hi, hours]) => hours.map((h) => `M${x(h)},${y(lo)}V${y(hi)}`))
    .join("");

  // the noisy temperature traces swing between low and high at every row
  const tracePoints = (p.trace ?? []).flatMap((d, i, all) => {
    const next = all[i + 1]?.[0] ?? d[0];
    return [[x(d[0]), y(d[2])], [x((d[0] + next) / 2), y(d[1])]] as [number, number][];
  });
  const traceLine = d3.line();

  return (
    <g>
      <clipPath id={`cell-${index}`}>
        <rect x={cellX} y={cellY} width={CELL_W} height={CELL_H} />
      </clipPath>
      <clipPath id={`plot-${index}`}>
        <rect x={left} y={top} width={PLOT_W} height={PLOT_H} />
      </clipPath>
      <g clipPath={`url(#cell-${index})`}>
        {/* grid */}
        <g stroke="#000" strokeWidth={1} strokeDasharray="1.2 2.7" fill="none">
          {xTickHours.slice(1, -1).map((h) => (
            <line key={h} x1={x(h)} x2={x(h)} y1={bottom} y2={top} />
          ))}
          {p.ticks.map((t) => (
            <line key={t} x1={left} x2={right} y1={y(t)} y2={y(t)} />
          ))}
        </g>

        {/* data */}
        <g clipPath={`url(#plot-${index})`}>
          {(p.bands ?? []).flatMap((band, i) =>
            bandPieces(band, x).map(([a, b], j) => (
              <rect key={`${i}-${j}`} x={a} y={y(band[3])} width={Math.max(b - a, 0)} height={Math.max(y(band[2]) - y(band[3]), 0)} fill={BLUE} shapeRendering="crispEdges" />
            )),
          )}
          {p.rows && <path d={area(p.rows) ?? ""} fill={BLUE} shapeRendering="crispEdges" />}
          {p.trace && <path d={traceLine(tracePoints) ?? ""} stroke={BLUE} strokeWidth={p.traceWidth} strokeLinejoin="bevel" fill="none" />}
          {spikePath && <path d={spikePath} stroke={BLUE} strokeWidth={1.15} fill="none" shapeRendering="crispEdges" />}
        </g>

        {/* axes */}
        <g stroke="#000" strokeWidth={1} fill="none">
          <rect x={left} y={top} width={PLOT_W} height={PLOT_H} />
          {xTickHours.map((h) => (
            <line key={h} x1={x(h)} x2={x(h)} y1={bottom} y2={bottom - 8} />
          ))}
          {xMinorHours.map((h) => (
            <line key={h} x1={x(h)} x2={x(h)} y1={bottom} y2={bottom - 4} />
          ))}
          {p.ticks.map((t) => (
            <line key={t} x1={left} x2={left + 12} y1={y(t)} y2={y(t)} />
          ))}
          {minorTicks.map((t) => (
            <line key={t} x1={left} x2={left + 5.5} y1={y(t)} y2={y(t)} />
          ))}
        </g>
        <g fontFamily={FONT} fill="#000">
          {xTickHours.map((h, i) => (
            <g key={h} fontSize={11} textAnchor="middle">
              <text x={x(h) - 1} y={bottom + 11.3}>{xDateLabels[i]}</text>
              <text x={x(h) - 1} y={bottom + 23.3}>{xTimeLabels[i]}</text>
            </g>
          ))}
          {p.ticks.map((t, i) => (
            <text key={t} x={left - 1.6} y={y(t)} dy="0.36em" fontSize={13} textAnchor="end">
              {p.tickLabels[i]}
            </text>
          ))}
          <text
            transform={`translate(${left - 17.5},${top + 0.5}) rotate(-90)`}
            fontSize={13}
            textAnchor="end"
          >
            {p.unit}
          </text>
        </g>

        {/* status box */}
        <rect x={cellX + 383} y={top - 0.3} width={56} height={PLOT_H + 0.6} fill="#00ff00" />
        <g fontFamily={FONT} fontWeight="bold" fontSize={p.labelSize} textAnchor="middle" fill="#000">
          <text x={cellX + 411} y={top + PLOT_H * 0.25} dy="0.36em">{p.name}</text>
          <text x={cellX + 411} y={top + PLOT_H * 0.75} dy="0.36em">{p.value}</text>
        </g>
      </g>
    </g>
  );
}

export default function App() {
  return (
    <>
      <style>{"body{margin:0;background:#fff}"}</style>
      <svg width={WIDTH} height={HEIGHT} style={{ display: "block" }}>
        <rect width={WIDTH} height={HEIGHT} fill="#fff" />
        <g fontFamily={FONT} fontWeight="bold" fontSize={18.95} textAnchor="middle" fill="#000">
          <text x={224.3} y={33.5}>{titleLines[0]}</text>
          <text x={224.3} y={93.5}>{titleLines[1]}</text>
          <text x={224.3} y={151}>{titleLines[2]}</text>
        </g>
        {panels.map((p, i) => (
          <ChartPanel key={p.name} p={p} index={i} />
        ))}
      </svg>
    </>
  );
}
